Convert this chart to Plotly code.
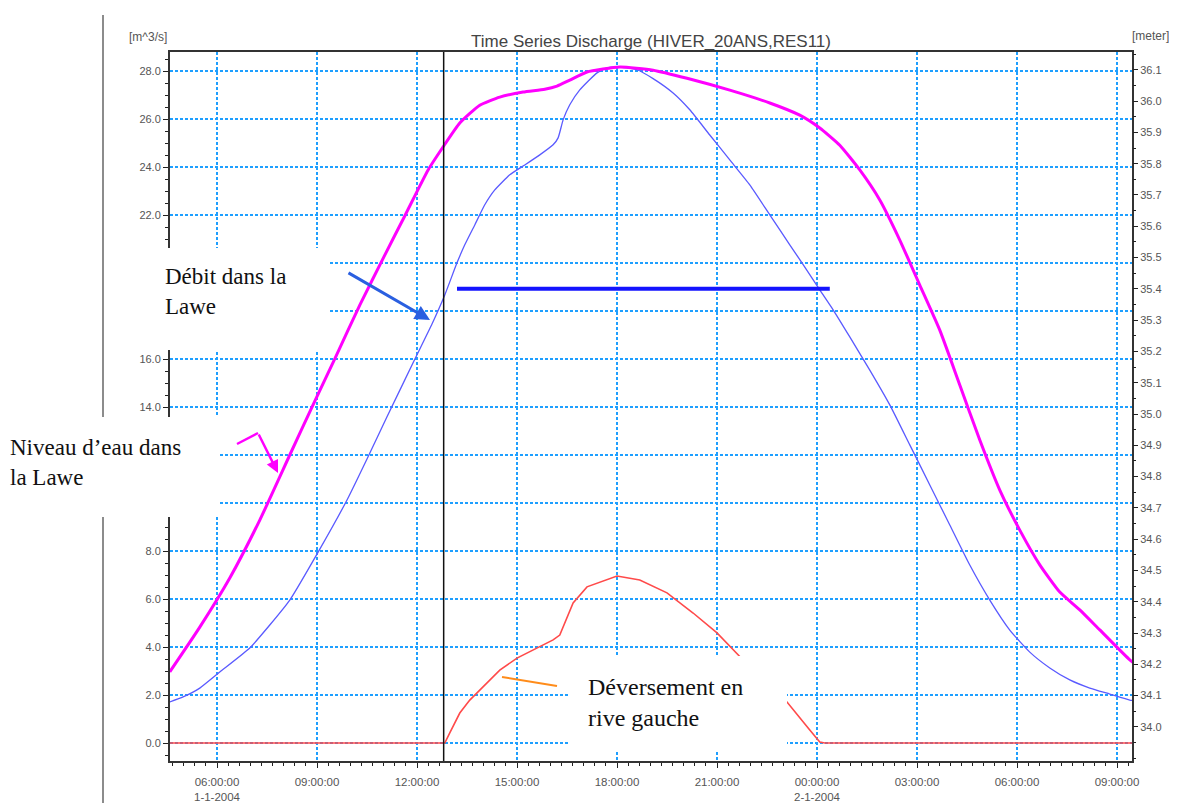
import plotly.graph_objects as go

# ---------------- data ----------------
level_times = [
    "2004-01-01 04:35", "2004-01-01 05:29", "2004-01-01 06:23", "2004-01-01 07:17",
    "2004-01-01 08:11", "2004-01-01 08:51", "2004-01-01 09:32", "2004-01-01 10:17",
    "2004-01-01 11:02", "2004-01-01 11:38", "2004-01-01 12:20", "2004-01-01 12:49",
    "2004-01-01 13:17", "2004-01-01 13:53", "2004-01-01 14:29", "2004-01-01 15:11",
    "2004-01-01 15:50", "2004-01-01 16:12", "2004-01-01 16:35", "2004-01-01 17:06",
    "2004-01-01 18:05", "2004-01-01 19:05", "2004-01-01 20:06", "2004-01-01 21:23",
    "2004-01-01 22:35", "2004-01-01 23:29", "2004-01-02 00:05", "2004-01-02 00:41",
    "2004-01-02 01:17", "2004-01-02 01:53", "2004-01-02 02:29", "2004-01-02 03:05",
    "2004-01-02 03:41", "2004-01-02 04:17", "2004-01-02 04:53", "2004-01-02 05:29",
    "2004-01-02 06:05", "2004-01-02 06:41", "2004-01-02 07:17", "2004-01-02 07:53",
    "2004-01-02 08:29", "2004-01-02 09:23", "2004-01-02 09:30",
]
level_m = [
    34.176, 34.319, 34.476, 34.661,
    34.869, 35.022, 35.176, 35.348,
    35.508, 35.633, 35.780, 35.859,
    35.930, 35.987, 36.013, 36.029,
    36.038, 36.048, 36.067, 36.093,
    36.109, 36.099, 36.073, 36.035,
    35.994, 35.955, 35.914, 35.859,
    35.780, 35.684, 35.556, 35.412,
    35.268, 35.093, 34.917, 34.757,
    34.629, 34.518, 34.431, 34.374,
    34.310, 34.214, 34.205,
]

discharge_times = [
    "2004-01-01 04:35", "2004-01-01 04:59", "2004-01-01 05:29", "2004-01-01 06:05",
    "2004-01-01 06:59", "2004-01-01 07:35", "2004-01-01 08:11", "2004-01-01 09:02",
    "2004-01-01 09:54", "2004-01-01 10:30", "2004-01-01 11:06", "2004-01-01 11:56",
    "2004-01-01 12:27", "2004-01-01 12:50", "2004-01-01 13:12", "2004-01-01 13:26",
    "2004-01-01 13:44", "2004-01-01 14:02", "2004-01-01 14:20", "2004-01-01 14:47",
    "2004-01-01 15:14", "2004-01-01 15:41", "2004-01-01 16:05", "2004-01-01 16:14",
    "2004-01-01 16:23", "2004-01-01 16:35", "2004-01-01 16:53", "2004-01-01 17:24",
    "2004-01-01 17:42", "2004-01-01 18:00", "2004-01-01 18:36", "2004-01-01 19:05",
    "2004-01-01 19:41", "2004-01-01 20:11", "2004-01-01 20:47", "2004-01-01 21:23",
    "2004-01-01 21:59", "2004-01-01 22:35", "2004-01-01 23:11", "2004-01-01 23:33",
    "2004-01-02 00:05", "2004-01-02 00:29", "2004-01-02 00:59", "2004-01-02 01:35",
    "2004-01-02 02:11", "2004-01-02 02:47", "2004-01-02 03:23", "2004-01-02 03:59",
    "2004-01-02 04:35", "2004-01-02 05:11", "2004-01-02 05:47", "2004-01-02 06:23",
    "2004-01-02 06:59", "2004-01-02 07:35", "2004-01-02 08:11", "2004-01-02 08:47",
    "2004-01-02 09:23", "2004-01-02 09:30",
]
discharge_m3s = [
    1.71, 1.92, 2.29, 2.96,
    3.96, 4.92, 5.96, 7.96,
    10.13, 11.84, 13.60, 16.00,
    17.47, 18.68, 20.02, 20.77,
    21.60, 22.44, 23.06, 23.69,
    24.10, 24.52, 24.94, 25.23,
    25.98, 26.61, 27.23, 27.94,
    28.15, 28.19, 28.07, 27.70,
    27.10, 26.40, 25.35, 24.31,
    23.27, 22.02, 20.77, 20.02,
    18.89, 18.06, 16.93, 15.55,
    14.10, 12.43, 10.76, 9.09,
    7.42, 5.96, 4.71, 3.79,
    3.13, 2.63, 2.29, 2.04,
    1.79, 1.77,
]

overflow_times = [
    "2004-01-01 04:30", "2004-01-01 12:50", "2004-01-01 12:59", "2004-01-01 13:17",
    "2004-01-01 13:35", "2004-01-01 13:53", "2004-01-01 14:29", "2004-01-01 15:00",
    "2004-01-01 16:05", "2004-01-01 16:17", "2004-01-01 16:41", "2004-01-01 17:06",
    "2004-01-01 18:00", "2004-01-01 18:41", "2004-01-01 19:30", "2004-01-01 20:17",
    "2004-01-01 21:00", "2004-01-01 21:47", "2004-01-01 22:26", "2004-01-01 23:06",
    "2004-01-01 23:29", "2004-01-01 23:47", "2004-01-02 00:05", "2004-01-02 00:14",
    "2004-01-02 09:30",
]
overflow_m3s = [
    0.0, 0.0, 0.42, 1.25,
    1.79, 2.21, 3.04, 3.54,
    4.30, 4.50, 5.84, 6.51,
    6.96, 6.80, 6.26, 5.42,
    4.59, 3.46, 2.54, 1.71,
    1.08, 0.54, 0.04, 0.0,
    0.0,
]

x_tick_vals = [
    "2004-01-01 06:00", "2004-01-01 09:00", "2004-01-01 12:00", "2004-01-01 15:00",
    "2004-01-01 18:00", "2004-01-01 21:00", "2004-01-02 00:00", "2004-01-02 03:00",
    "2004-01-02 06:00", "2004-01-02 09:00",
]
x_tick_text = [
    "06:00:00<br>1-1-2004", "09:00:00", "12:00:00", "15:00:00",
    "18:00:00", "21:00:00", "00:00:00<br>2-1-2004", "03:00:00",
    "06:00:00", "09:00:00",
]
x_range = ["2004-01-01 04:35:24", "2004-01-02 09:27:00"]

left_tick_vals = [0, 2, 4, 6, 8, 10, 12, 14, 16, 18, 20, 22, 24, 26, 28]
left_tick_text = ["0.0", "2.0", "4.0", "6.0", "8.0", "", "", "14.0", "16.0",
                  "", "", "22.0", "24.0", "26.0", "28.0"]
left_range = [-0.75, 28.81]

right_tick_vals = [34.0, 34.1, 34.2, 34.3, 34.4, 34.5, 34.6, 34.7, 34.8, 34.9, 35.0,
                   35.1, 35.2, 35.3, 35.4, 35.5, 35.6, 35.7, 35.8, 35.9, 36.0, 36.1]
right_tick_text = ["34.0", "34.1", "34.2", "34.3", "34.4", "34.5", "34.6", "34.7",
                   "34.8", "34.9", "35.0", "35.1", "35.2", "35.3", "35.4", "35.5",
                   "35.6", "35.7", "35.8", "35.9", "36.0", "36.1"]
right_range = [33.891, 36.157]

threshold_level = 35.4
threshold_times = ["2004-01-01 13:12", "2004-01-02 00:23"]
marker_time = "2004-01-01 12:48"

title_text = "Time Series Discharge (HIVER_20ANS,RES11)"

# ---------------- layout helpers (page pixel -> paper) ----------------
PAGE_W, PAGE_H = 1177, 803
OFF = 8  # default body margin of the html page
W, H = PAGE_W - OFF, PAGE_H - OFF
L, R, T, B = 170, 1132, 52, 761  # plot area in page pixels


def PX(x):
    return (x - L) / (R - L)


def PY(y):
    return (B - y) / (B - T)


GRID = "#1e9fff"
TICKFONT = dict(family="Liberation Sans, Arial, sans-serif", size=11, color="#555555")
XTICKFONT = dict(family="Liberation Sans, Arial, sans-serif", size=11.5, color="#555555")

fig = go.Figure()

fig.add_trace(go.Scatter(
    x=level_times, y=level_m, yaxis="y2", mode="lines",
    line=dict(color="#ff00ff", width=3, shape="spline", smoothing=0.5),
    name="Niveau d'eau", hoverinfo="skip"))
fig.add_trace(go.Scatter(
    x=discharge_times, y=discharge_m3s, mode="lines",
    line=dict(color="#5a5aff", width=1.3, shape="spline", smoothing=0.5),
    name="Débit", hoverinfo="skip"))
fig.add_trace(go.Scatter(
    x=overflow_times, y=overflow_m3s, mode="lines",
    line=dict(color="#ff4a4a", width=1.6),
    name="Déversement", hoverinfo="skip"))

shapes = []
# outer screenshot frame line at the far left
shapes.append(dict(type="line", xref="paper", yref="paper",
                   x0=PX(103), x1=PX(103), y0=PY(15), y1=PY(803),
                   line=dict(color="#666666", width=1.5), layer="above"))
# black vertical time marker
shapes.append(dict(type="line", xref="x", yref="paper",
                   x0=marker_time, x1=marker_time, y0=0, y1=1,
                   line=dict(color="#111111", width=1.5), layer="above"))
# thick blue threshold line
shapes.append(dict(type="line", xref="x", yref="y2",
                   x0=threshold_times[0], x1=threshold_times[1],
                   y0=threshold_level, y1=threshold_level,
                   line=dict(color="#1414ff", width=4), layer="above"))
# white text boxes
for (x0, x1, y0, y1) in [(145, 330, 248, 350), (0, 218, 417, 517), (568, 787, 656, 752)]:
    shapes.append(dict(type="rect", xref="paper", yref="paper",
                       x0=PX(x0), x1=PX(x1), y0=PY(y1), y1=PY(y0),
                       fillcolor="white", line=dict(width=0), layer="above"))
# magenta bent pointer (first segment)
shapes.append(dict(type="line", xref="paper", yref="paper",
                   x0=PX(237), y0=PY(444), x1=PX(258), y1=PY(433),
                   line=dict(color="#ff00ff", width=2.5), layer="above"))
# orange pointer line
shapes.append(dict(type="line", xref="paper", yref="paper",
                   x0=PX(502), y0=PY(677), x1=PX(557), y1=PY(686),
                   line=dict(color="#ff8c1a", width=2), layer="above"))

SERIF = dict(family="Liberation Serif, Times New Roman, serif", size=23, color="#111111")
annotations = [
    dict(text="Débit dans la<br>Lawe", xref="paper", yref="paper",
         x=PX(163), y=PY(291), xanchor="left", yanchor="middle", align="left",
         showarrow=False, font=SERIF),
    dict(text="Niveau d’eau dans<br>la Lawe", xref="paper", yref="paper",
         x=PX(8), y=PY(462), xanchor="left", yanchor="middle", align="left",
         showarrow=False, font=SERIF),
    dict(text="Déversement en<br>rive gauche", xref="paper", yref="paper",
         x=PX(586), y=PY(702), xanchor="left", yanchor="middle", align="left",
         showarrow=False, font=dict(family="Liberation Serif, Times New Roman, serif",
                                    size=24, color="#111111")),
    # blue arrow
    dict(text="", xref="paper", yref="paper", x=PX(430), y=PY(320),
         ax=-83, ay=-48, axref="pixel", ayref="pixel", showarrow=True,
         arrowhead=2, arrowsize=1, arrowwidth=3, arrowcolor="#2a5fe0"),
    # magenta arrow (second segment)
    dict(text="", xref="paper", yref="paper", x=PX(278), y=PY(473),
         ax=-20, ay=-40, axref="pixel", ayref="pixel", showarrow=True,
         arrowhead=2, arrowsize=1, arrowwidth=2.5, arrowcolor="#ff00ff"),
    # axis unit labels
    dict(text="[m^3/s]", xref="paper", yref="paper", x=PX(148), y=PY(37),
         xanchor="center", yanchor="middle", showarrow=False,
         font=dict(family="Liberation Sans, Arial, sans-serif", size=12, color="#555555")),
    dict(text="[meter]", xref="paper", yref="paper", x=PX(1150), y=PY(36),
         xanchor="center", yanchor="middle", showarrow=False,
         font=dict(family="Liberation Sans, Arial, sans-serif", size=12, color="#555555")),
]

fig.update_layout(
    width=W, height=H,
    margin=dict(l=L - OFF, r=W - (R - OFF), t=T - OFF, b=H - (B - OFF), pad=0,
                autoexpand=False),
    paper_bgcolor="white", plot_bgcolor="white",
    showlegend=False,
    title=dict(text=title_text, x=0.5, xref="paper", xanchor="center",
               y=1 - (41 - OFF) / H, yref="container", yanchor="middle",
               font=dict(family="Liberation Sans, Arial, sans-serif", size=17, color="#444444")),
    xaxis=dict(
        type="date", range=x_range, automargin=False,
        tickmode="array", tickvals=x_tick_vals, ticktext=x_tick_text,
        tickfont=XTICKFONT, ticks="outside", ticklen=5, tickcolor="#222222",
        ticklabelstandoff=4,
        showgrid=True, gridcolor=GRID, gridwidth=1.5, griddash="3px,2px",
        showline=True, linecolor="#333333", linewidth=2, mirror=True,
        zeroline=False,
        minor=dict(dtick=20 * 60 * 1000, tick0="2004-01-01 06:00", ticks="outside",
                   ticklen=3, tickcolor="#222222", showgrid=False),
    ),
    yaxis=dict(
        range=left_range, automargin=False,
        tickmode="array", tickvals=left_tick_vals, ticktext=left_tick_text,
        tickfont=TICKFONT, ticks="outside", ticklen=5, tickcolor="#222222",
        showgrid=True, gridcolor=GRID, gridwidth=1.5, griddash="3px,2px",
        showline=True, linecolor="#333333", linewidth=2, mirror=True,
        zeroline=False,
        minor=dict(dtick=0.5, tick0=0, ticks="outside", ticklen=3,
                   tickcolor="#222222", showgrid=False),
    ),
    yaxis2=dict(
        overlaying="y", side="right", range=right_range, automargin=False,
        tickmode="array", tickvals=right_tick_vals, ticktext=right_tick_text,
        tickfont=TICKFONT, ticks="outside", ticklen=5, tickcolor="#222222",
        showgrid=False, zeroline=False, showline=False,
        minor=dict(dtick=0.05, tick0=34.0, ticks="outside", ticklen=3,
                   tickcolor="#222222", showgrid=False),
    ),
    shapes=shapes,
    annotations=annotations,
)

fig.write_html("out.html")
